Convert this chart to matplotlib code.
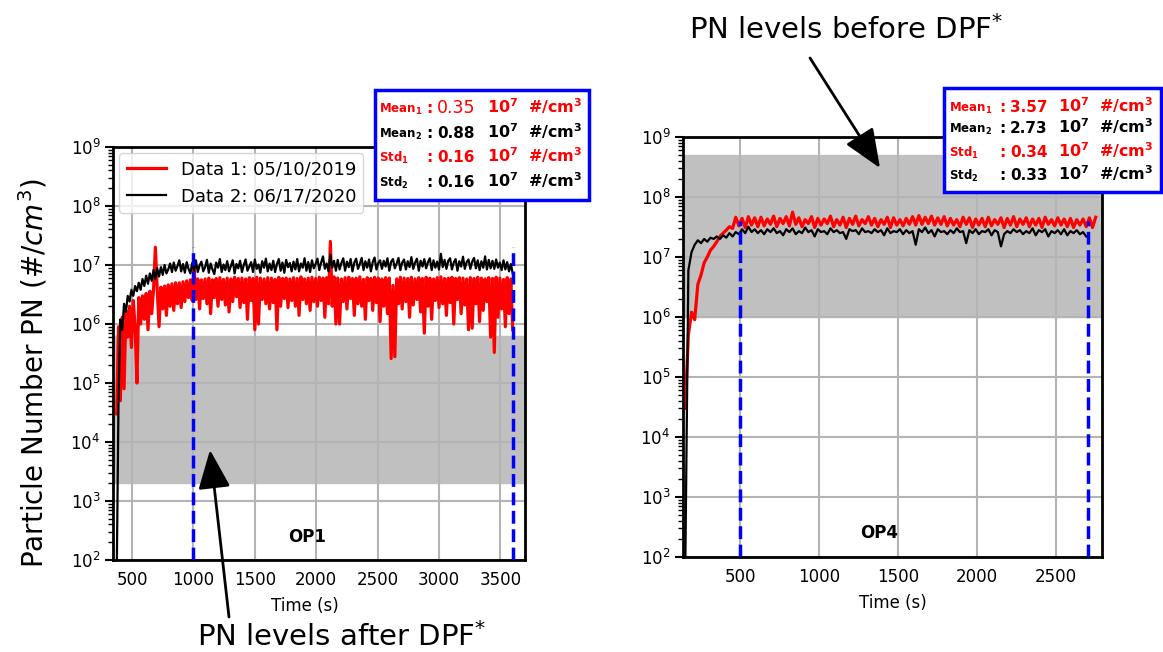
import numpy as np
import matplotlib.pyplot as plt
from matplotlib.patches import Rectangle

W, H = 1163, 652

def fx(px):
    return px / W

def fy(py):
    return 1 - py / H

# ---- OP1 (left), sampled every 15 s from 375 s, values in 1e6 #/cm3
op1_start, op1_step = 375, 15
op1_red = [
    0.03, 0.9, 0.05, 1.3, 0.08, 1.7, 0.6, 2.0, 0.4, 2.5, 0.9, 0.1,
    2.8, 1.0, 3.0, 1.2, 3.3, 0.8, 3.6, 1.5, 3.8, 20.0, 3.9, 0.9,
    4.2, 1.8, 4.4, 1.4, 4.6, 2.0, 4.8, 1.7, 5.0, 2.2, 5.0, 1.9,
    5.2, 2.4, 5.4, 2.8, 5.6, 2.5, 10.0, 2.6, 5.8, 1.8, 5.6, 2.7,
    5.8, 2.2, 6.0, 1.5, 5.6, 2.8, 5.9, 2.0, 6.1, 2.6, 5.7, 2.1,
    6.0, 1.6, 5.8, 2.4, 6.2, 2.9, 5.9, 1.9, 6.0, 2.3, 5.8, 1.2,
    6.1, 2.5, 5.9, 0.8, 6.2, 1.0, 6.0, 2.6, 5.8, 2.2, 6.1, 1.8,
    6.0, 2.3, 5.7, 0.8, 6.2, 2.0, 5.9, 2.7, 6.0, 1.9, 5.8, 2.5,
    6.1, 2.0, 5.9, 1.4, 6.3, 2.6, 5.8, 2.2, 6.0, 1.7, 6.2, 2.4,
    5.9, 2.0, 6.2, 2.5, 6.0, 1.3, 6.1, 2.2, 25.0, 2.0, 6.3, 1.0,
    6.0, 1.0, 5.8, 2.4, 6.1, 1.8, 6.2, 2.7, 5.9, 1.4, 6.0, 2.2,
    6.3, 2.0, 5.7, 1.2, 6.1, 2.5, 5.9, 1.7, 6.2, 2.3, 6.0, 1.1,
    5.8, 2.0, 6.1, 1.5, 6.0, 0.26, 4.5, 0.28, 5.8, 2.2, 6.2, 1.8,
    6.0, 2.4, 5.9, 1.3, 6.2, 2.1, 5.8, 2.6, 6.1, 1.6, 5.9, 0.7,
    6.2, 2.0, 6.0, 1.2, 5.8, 2.5, 6.1, 1.9, 6.3, 2.2, 5.9, 1.4,
    6.0, 2.3, 6.2, 1.0, 5.9, 2.6, 6.1, 1.5, 6.0, 2.1, 5.8, 0.8,
    6.1, 0.85, 5.9, 2.2, 6.2, 1.1, 6.0, 1.7, 5.8, 2.4, 6.1, 0.6,
    5.9, 0.33, 6.2, 1.3, 6.0, 1.8, 5.7, 0.9, 6.1, 1.5, 5.8, 0.8,
]
op1_black = [
    0.00005, 0.05, 1.2, 0.8, 2.2, 1.6, 3.0, 2.4, 3.8, 3.0, 4.4, 3.6,
    5.0, 3.8, 5.8, 4.4, 6.6, 4.8, 7.2, 5.4, 8.2, 5.8, 8.8, 6.4,
    9.2, 6.8, 10.0, 7.2, 8.4, 10.6, 7.6, 11.0, 8.0, 9.6, 12.0, 7.8,
    10.4, 7.4, 11.2, 8.6, 7.2, 10.8, 8.0, 12.0, 7.6, 9.8, 11.4, 7.8,
    9.2, 12.2, 7.4, 10.6, 8.4, 7.0, 11.0, 9.0, 12.6, 7.6, 10.2, 8.2,
    11.6, 7.8, 9.6, 12.0, 7.2, 10.4, 8.8, 11.8, 7.6, 10.0, 12.4, 8.0,
    9.4, 11.2, 7.6, 12.4, 8.6, 10.2, 7.4, 11.6, 9.0, 12.8, 7.8, 10.6,
    8.2, 11.8, 7.6, 10.4, 12.6, 8.0, 11.0, 7.4, 12.2, 9.2, 10.8, 7.8,
    11.4, 8.4, 12.6, 7.8, 10.6, 9.0, 13.0, 8.0, 11.2, 7.6, 12.0, 8.8,
    10.4, 12.8, 8.2, 11.0, 14.0, 8.6, 10.6, 7.8, 15.0, 9.0, 11.8, 8.0,
    12.2, 8.4, 10.8, 13.0, 8.0, 11.4, 9.2, 12.6, 7.8, 11.0, 12.8, 8.6,
    10.4, 13.2, 8.2, 11.6, 9.0, 12.4, 7.8, 11.2, 13.4, 8.4, 10.8, 12.0,
    8.6, 11.8, 9.4, 13.0, 8.0, 11.4, 12.6, 8.8, 10.6, 13.2, 8.2, 11.0,
    12.4, 8.4, 11.6, 9.2, 13.6, 8.6, 11.0, 12.8, 8.0, 11.8, 9.4, 12.6,
    8.8, 11.2, 13.0, 8.2, 12.0, 9.0, 11.4, 8.4, 15.5, 9.2, 12.2, 8.6,
    11.8, 13.0, 8.4, 11.0, 12.6, 8.0, 11.6, 9.4, 13.8, 8.6, 11.2, 12.4,
    8.6, 11.4, 13.2, 8.8, 12.0, 8.2, 11.6, 9.0, 14.0, 8.4, 12.2, 8.8,
    11.8, 8.6, 12.4, 9.0, 11.0, 8.2, 12.0, 8.4, 11.2, 7.8, 10.4, 7.2,
]

# ---- OP4 (right), sampled every 20 s from 150 s, values in 1e7 #/cm3
op4_start, op4_step = 150, 20
op4_red = [
    0.003, 0.05, 0.12, 0.09, 0.35, 0.5, 0.8, 1.0, 1.3, 1.5, 1.8, 2.2,
    2.5, 2.8, 3.2, 3.0, 4.6, 3.3, 4.4, 3.1, 4.7, 3.4, 4.5, 3.2,
    4.6, 3.3, 4.3, 3.5, 4.8, 3.2, 4.4, 3.6, 4.7, 3.3, 5.6, 3.5,
    4.5, 3.2, 4.2, 3.6, 4.7, 3.1, 4.4, 3.4, 4.3, 3.6, 4.8, 3.2,
    4.2, 3.4, 4.6, 3.1, 4.4, 3.5, 4.8, 3.3, 4.2, 3.6, 4.7, 3.4,
    4.4, 3.2, 4.2, 3.5, 4.6, 3.1, 4.5, 3.4, 4.2, 3.3, 4.4, 3.5,
    4.7, 3.4, 4.9, 3.5, 4.6, 3.6, 4.8, 3.4, 4.5, 3.5, 4.7, 3.3,
    4.4, 3.4, 4.2, 3.2, 4.6, 3.5, 4.5, 3.1, 4.3, 3.4, 4.4, 3.2,
    4.6, 3.3, 4.2, 3.5, 4.5, 3.1, 4.4, 3.4, 4.7, 3.2, 4.3, 3.5,
    4.5, 3.2, 4.3, 3.4, 4.4, 3.1, 4.6, 3.5, 4.2, 3.3, 4.5, 3.4,
    4.3, 3.2, 4.4, 3.1, 4.2, 3.4, 4.3, 3.2, 4.5, 3.1, 4.6,
]
op4_black = [
    0.000005, 0.6, 1.2, 1.6, 1.9, 1.7, 2.0, 1.8, 2.1, 2.0, 2.2, 2.0,
    2.3, 2.1, 2.5, 2.2, 2.6, 2.4, 2.9, 2.5, 3.2, 2.6, 2.9, 2.5,
    2.8, 2.4, 2.9, 2.6, 3.0, 2.5, 2.7, 2.3, 2.9, 2.6, 3.0, 2.4,
    2.7, 2.5, 3.1, 2.6, 2.8, 2.2, 2.9, 2.6, 2.7, 2.4, 3.0, 2.6,
    2.8, 2.5, 2.6, 2.0, 2.9, 2.7, 2.8, 2.4, 3.0, 2.6, 2.7, 2.5,
    2.9, 2.6, 2.8, 2.3, 3.0, 2.5, 2.7, 2.6, 2.9, 2.4, 2.8, 2.5,
    2.7, 1.6, 2.9, 2.6, 3.1, 2.5, 2.8, 2.2, 2.9, 2.6, 2.7, 2.4,
    2.8, 2.5, 3.0, 2.6, 2.7, 1.7, 2.8, 2.5, 2.9, 2.4, 2.7, 2.6,
    2.9, 2.3, 2.8, 2.6, 1.5, 2.4, 2.7, 2.5, 2.9, 2.6, 2.8, 2.4,
    2.7, 2.5, 3.0, 2.3, 2.8, 2.6, 2.9, 2.2, 2.7, 2.5, 2.8, 2.4,
    2.9, 2.3, 2.7, 2.5, 2.8, 2.4, 2.6, 2.2,
]

legend_labels = ["Data 1: 05/10/2019", "Data 2: 06/17/2020"]
op1_window = [1000, 3600]
op4_window = [500, 2700]
op1_band = [2e3, 6.3e5]   # PN levels after DPF
op4_band = [1e6, 5e8]     # PN levels before DPF

stats_rows = ["Mean", "Mean", "Std", "Std"]
stats_idx = ["1", "2", "1", "2"]
op1_stats = ["0.35", "0.88", "0.16", "0.16"]
op4_stats = ["3.57", "2.73", "0.34", "0.33"]

fig = plt.figure(figsize=(11.63, 6.52), dpi=100)
ax1 = fig.add_axes([fx(113), fy(560), (525 - 113) / W, (560 - 147) / H])
ax2 = fig.add_axes([fx(683), fy(557), (1102 - 683) / W, (557 - 137) / H])

t1 = op1_start + op1_step * np.arange(len(op1_red))
t4r = op4_start + op4_step * np.arange(len(op4_red))
t4b = op4_start + op4_step * np.arange(len(op4_black))

ax1.plot(t1, np.array(op1_red) * 1e6, color="red", lw=2.3, label=legend_labels[0])
ax1.plot(t1, np.array(op1_black) * 1e6, color="black", lw=1.6, label=legend_labels[1])
ax2.plot(t4r, np.array(op4_red) * 1e7, color="red", lw=2.3)
ax2.plot(t4b, np.array(op4_black) * 1e7, color="black", lw=1.6)

ax1.axhspan(op1_band[0], op1_band[1], color="#c0c0c0", zorder=0.5)
ax2.axhspan(op4_band[0], op4_band[1], color="#c0c0c0", zorder=0.5)

ax1.vlines(op1_window, 1e2, 2e7, colors="blue", linestyles="--", lw=2.5, zorder=4)
ax2.vlines(op4_window, 1e2, 4e7, colors="blue", linestyles="--", lw=2.5, zorder=4)

for ax, xl, xt in [(ax1, (345, 3700), range(500, 3501, 500)),
                   (ax2, (136, 2790), range(500, 2501, 500))]:
    ax.set_yscale("log")
    ax.set_ylim(1e2, 1e9)
    ax.set_xlim(*xl)
    ax.set_xticks(list(xt))
    ax.grid(True, which="major", color="#b4b4b4", lw=1.5)
    for s in ax.spines.values():
        s.set_linewidth(2)
        s.set_color("black")
    ax.tick_params(axis="y", which="major", length=6, width=1.5, labelsize=12, pad=3)
    ax.tick_params(axis="y", which="minor", length=3.5, width=1)
    ax.tick_params(axis="x", length=0, labelsize=12, pad=8)
    ax.set_xlabel("Time (s)", fontsize=12, labelpad=6)
ax1.xaxis.label.set_x(0.465)

ax1.text(0.47, 0.056, "OP1", transform=ax1.transAxes, ha="center", va="center",
         fontsize=12, fontweight="bold")
ax2.text(0.468, 0.057, "OP4", transform=ax2.transAxes, ha="center", va="center",
         fontsize=12, fontweight="bold")

ax1.legend(loc="upper left", fontsize=13, framealpha=0.8, borderaxespad=0.35,
           handlelength=2.2)

fig.text(fx(33), fy(373), r"Particle Number PN ($\#/cm^3$)", rotation=90,
         ha="center", va="center", fontsize=20)

# annotations with arrows
fig.text(fx(342), fy(637), r"PN levels after DPF$^{*}$", ha="center", va="center", fontsize=21)
fig.text(fx(846), fy(30), r"PN levels before DPF$^{*}$", ha="center", va="center", fontsize=21)
arrow = dict(arrowstyle="-|>,head_length=1.2,head_width=0.5", color="black", lw=2,
             mutation_scale=20, shrinkA=0, shrinkB=0)
ax1.annotate("", xy=(fx(210), fy(450)), xytext=(fx(229), fy(617)),
             xycoords="figure fraction", textcoords="figure fraction", arrowprops=arrow)
ax2.annotate("", xy=(fx(880), fy(168)), xytext=(fx(810), fy(58)),
             xycoords="figure fraction", textcoords="figure fraction", arrowprops=arrow)

# stats boxes
def stats_box(box, xs, ys, vals):
    x0, y0, x1, y1 = box
    fig.add_artist(Rectangle((fx(x0), fy(y1)), (x1 - x0) / W, (y1 - y0) / H,
                             transform=fig.transFigure, facecolor="white",
                             edgecolor="blue", lw=2.5, zorder=5))
    xl, xc, xv, xu = xs
    for i in range(4):
        col = "red" if stats_idx[i] == "1" else "black"
        y = fy(ys[i])
        fig.text(fx(xl), y, r"$\mathbf{%s}_{\mathbf{%s}}$" % (stats_rows[i], stats_idx[i]),
                 color=col, fontsize=8.5, va="baseline", zorder=6)
        fig.text(fx(xc), y, ":", color=col, fontsize=11, fontweight="bold",
                 va="baseline", zorder=6)
        if i == 0 and vals is op1_stats:
            fig.text(fx(xv), y, vals[i], color=col, fontsize=12.5, va="baseline", zorder=6)
        else:
            fig.text(fx(xv), y, vals[i], color=col, fontsize=11, fontweight="bold",
                     va="baseline", zorder=6)
        fig.text(fx(xu), y, r"$\mathbf{10^{7}\ \ \#/cm^{3}}$", color=col, fontsize=11.5,
                 va="baseline", zorder=6)

stats_box((375, 90, 589, 200), (379, 426, 437, 487), (113, 138, 162, 187), op1_stats)
stats_box((944, 88, 1161, 192), (949, 999, 1010, 1058), (112, 133, 157, 180), op4_stats)

fig.savefig("out.png", dpi=100)
